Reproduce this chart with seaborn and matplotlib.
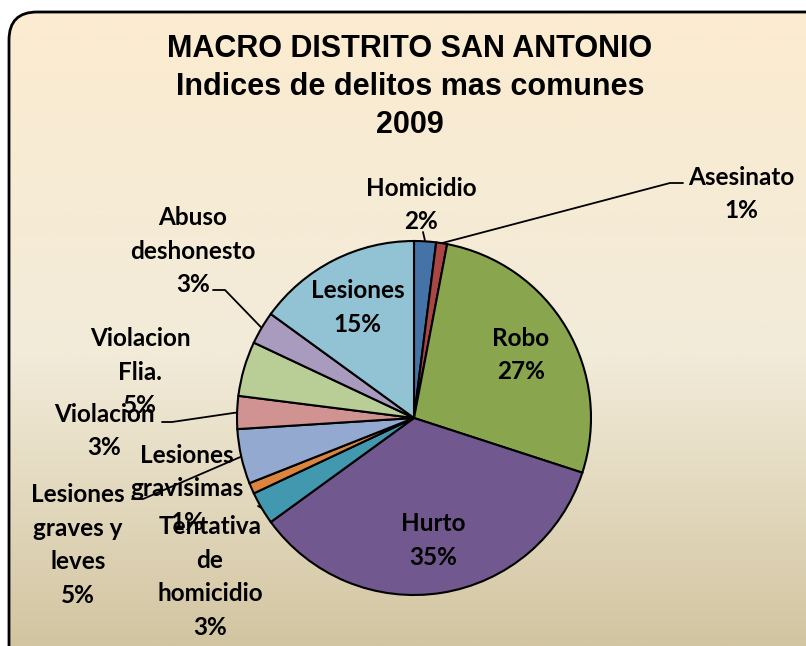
import numpy as np
import matplotlib
matplotlib.use("Agg")
import matplotlib.pyplot as plt
import seaborn as sns
from matplotlib.patches import FancyBboxPatch
from matplotlib.colors import LinearSegmentedColormap

# datos (sentido horario desde las 12)
categorias = ["Homicidio", "Asesinato", "Robo", "Hurto", "Tentativa\nde\nhomicidio",
              "Lesiones\ngravisimas", "Lesiones\ngraves y\nleves", "Violacion",
              "Violacion\nFlia.", "Abuso\ndeshonesto", "Lesiones"]
porcentajes = [2, 1, 27, 35, 3, 1, 5, 3, 5, 3, 15]
colores = ["#4572A7", "#AA4643", "#89A54E", "#71588F", "#4198AF", "#DB843D",
           "#93A9CF", "#D19392", "#B9CD96", "#A99BBD", "#92C3D4"]
titulo = "MACRO DISTRITO SAN ANTONIO\nIndices de delitos mas comunes\n2009"

sns.set_theme(style="white")
plt.rcParams['font.family'] = ['Lato', 'DejaVu Sans']

W, H = 806, 646
fig = plt.figure(figsize=(W / 100, H / 100), dpi=100)
fig.patch.set_facecolor("white")

# fondo con degradado y borde redondeado (coordenadas en pixeles)
bg = fig.add_axes([0, 0, 1, 1])
bg.set_xlim(0, W)
bg.set_ylim(H, 0)
bg.set_axis_off()
cmap = LinearSegmentedColormap.from_list(
    "pergamino", [(0, "#FCEBD0"), (0.55, "#F2EBD9"), (1, "#D2C5A1")])
grad = np.linspace(0, 1, 256).reshape(-1, 1)
im = bg.imshow(grad, cmap=cmap, extent=[0, W, H, 0], aspect="auto", zorder=0)
caja = FancyBboxPatch((9, 12), 830, 670, boxstyle="round,pad=0,rounding_size=28",
                      facecolor="none", edgecolor="black", linewidth=2, zorder=1)
bg.add_patch(caja)
im.set_clip_path(caja)

# titulo
fig.text(410 / W, 1 - 87 / H, titulo, ha="center", va="center", fontsize=22,
         fontweight="bold", family="Liberation Sans", color="black", linespacing=1.36)

# torta
cx, cy, r = 414, 418, 177
ax = fig.add_axes([(cx - r) / W, (H - cy - r) / H, 2 * r / W, 2 * r / H])
ax.set_facecolor("none")
wedges, _ = ax.pie(porcentajes, colors=colores, startangle=90, counterclock=False,
                   wedgeprops=dict(edgecolor="black", linewidth=1.5))
ax.set_xlim(-1, 1)
ax.set_ylim(-1, 1)
ax.set_axis_off()


def borde(w, frac=1.0):
    th = np.deg2rad((w.theta1 + w.theta2) / 2)
    return cx + frac * r * np.cos(th), cy - frac * r * np.sin(th)


estilo = dict(ha="center", va="center", fontsize=17.5, fontweight="bold",
              color="black", linespacing=1.55)

# etiquetas internas
for i in [2, 3, 10]:
    x, y = borde(wedges[i], 0.70)
    fig.text(x / W, 1 - y / H, f"{categorias[i]}\n{porcentajes[i]}%", **estilo)

# etiquetas externas: posicion del texto y quiebre de la linea guia
externas = {
    0: ((421, 205), [(423, 232)]),
    1: ((741, 194), [(670, 183), (683, 183)]),
    4: ((210, 577), [(258, 506)]),
    5: ((187, 489), None),
    6: ((78, 545), [(143, 499), (132, 499)]),
    7: ((104, 431), [(172, 422), (162, 422)]),
    8: ((140, 372), None),
    9: ((193, 251), [(225, 290), (213, 290)]),
}
for i, (pos, guia) in externas.items():
    if guia:
        x0, y0 = borde(wedges[i])
        xs = [x0] + [p[0] for p in guia]
        ys = [y0] + [p[1] for p in guia]
        bg.plot(xs, ys, color="black", linewidth=1.3, zorder=3)
    fig.text(pos[0] / W, 1 - pos[1] / H, f"{categorias[i]}\n{porcentajes[i]}%", **estilo)

fig.savefig("out.png", dpi=100)
